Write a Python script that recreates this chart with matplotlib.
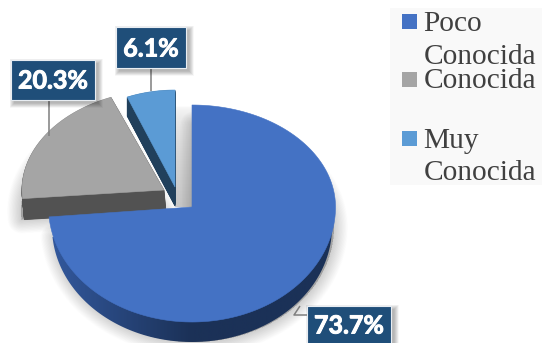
import numpy as np
import matplotlib
matplotlib.use("Agg")
import matplotlib.pyplot as plt
import matplotlib.patheffects as pe
from matplotlib.colors import LinearSegmentedColormap
from matplotlib.patches import Polygon, Rectangle

categories = ["Poco\nConocida", "Conocida", "Muy\nConocida"]
shares = [73.7, 20.3, 6.1]
labels = ["73.7%", "20.3%", "6.1%"]

top_colors = ["#4472C4", "#A5A5A5", "#5B9BD5"]
side_colors = ["#1B3157", "#525252", "#21405C"]

W, H = 542, 343
fig = plt.figure(figsize=(W / 100, H / 100), dpi=100)
ax = fig.add_axes([0, 0, 1, 1])
ax.axis("off")


def slice_outline(start, sweep, cx, cy, rx, ry_up, ry_down):
    """Closed outline of a tilted pie slice; angles run clockwise from 12 o'clock."""
    a = np.radians(np.linspace(start, start + sweep, 200))
    dx, dy = np.sin(a), -np.cos(a)
    x = cx + rx * dx
    y = cy + np.where(dy < 0, ry_up, ry_down) * dy
    return np.column_stack([np.r_[cx, x], np.r_[cy, y]])


def soft_shadow(xy, off=(0, 0), spread=20, strength=0.007, z=1):
    """Blurred drop shadow built from widening translucent strokes."""
    p = xy + np.array(off)
    for lw in np.linspace(0.5, spread, 24):
        ax.fill(p[:, 0], p[:, 1], fc="black", ec="black", lw=lw, alpha=strength,
                joinstyle="round", zorder=z)


def draw_extruded(xy, top, side, depth, drift, z):
    for t in np.linspace(1, 0, int(depth) * 2 + 1)[:-1]:
        ax.fill(xy[:, 0] + drift * t, xy[:, 1] + depth * t, fc=side, ec=side,
                lw=0.6, zorder=z)
    ax.fill(xy[:, 0], xy[:, 1], fc=top, ec=top, lw=0.4, zorder=z + 0.5)


# Slice angles follow the shares, clockwise from the top
total = sum(shares)
sweeps = [360 * s / total for s in shares]
starts = np.r_[0, np.cumsum(sweeps)[:-1]]

geometry = [
    dict(cx=192, cy=207, rx=143.5, ry_up=102, ry_down=115, depth=20, drift=0),
    dict(cx=164, cy=190, rx=142, ry_up=100, ry_down=100, depth=21, drift=2),
    dict(cx=175, cy=187, rx=128, ry_up=97, ry_down=97, depth=19, drift=0),
]
outlines = [
    slice_outline(st, sw, g["cx"], g["cy"], g["rx"], g["ry_up"], g["ry_down"])
    for st, sw, g in zip(starts, sweeps, geometry)
]

# Lower face of the large slice, slightly narrower than its top
g = geometry[0]
rim_outline = slice_outline(starts[0], sweeps[0], g["cx"], g["cy"] + g["depth"],
                            g["rx"] - 3.5, g["ry_up"], g["ry_down"])

# Shadow falling into the gap between the exploded slices and the large one
gap = np.linspace(0, 1, 60)[:, None] ** 0.45
ax.imshow(np.dstack([np.zeros((60, 1))] * 3 + [gap * 0.22]), extent=(175, 193, 207, 105),
          aspect="auto", zorder=1.5, interpolation="bilinear")
ax.set_xlim(0, W)
ax.set_ylim(H, 0)

# Shadows first, then gray, light blue and finally the large slice
soft_shadow(outlines[1], off=(-1, 21), z=1)
soft_shadow(rim_outline, off=(2, 0), z=1)

draw_extruded(outlines[1], top_colors[1], side_colors[1], geometry[1]["depth"],
              geometry[1]["drift"], 2)
draw_extruded(outlines[2], top_colors[2], side_colors[2], geometry[2]["depth"],
              geometry[2]["drift"], 3)

# The large slice has a shaded rim that darkens towards the front
rim_clip = Polygon(rim_outline, closed=True, transform=ax.transData, fc="none", ec="none")
ax.add_patch(rim_clip)
rim_cmap = LinearSegmentedColormap.from_list("rim", ["#33599E", "#1B3157", "#1B3157"])
rim = ax.imshow(np.linspace(0, 1, 300)[None, :], cmap=rim_cmap, aspect="auto",
                extent=(48, 336, H, 0), zorder=4)
rim.set_clip_path(rim_clip)
ax.set_xlim(0, W)
ax.set_ylim(H, 0)
ax.fill(outlines[0][:, 0], outlines[0][:, 1], fc=top_colors[0], ec=top_colors[0], lw=0.4, zorder=4.5)

# Data callouts with leader lines
callouts = [
    dict(box=(307, 306, 84, 42), line=[(300, 306), (294, 315), (307, 315)], text_y=326),
    dict(box=(11, 60, 84, 40), line=[(49, 100), (49, 136)], text_y=81),
    dict(box=(116, 27, 70, 41), line=[(151, 68), (151, 91)], text_y=49),
]
for text, c in zip(labels, callouts):
    x, y, w, h = c["box"]
    xs, ys = zip(*c["line"])
    ax.plot(xs, ys, color="#7F7F7F", lw=1.1, zorder=6, solid_capstyle="butt")
    for grow in np.linspace(0, 9, 10):
        ax.add_patch(Rectangle((x + 3 - grow / 2, y + 3 - grow / 2), w + grow, h + grow,
                               fc="black", ec="none", alpha=0.03, zorder=6.5))
    ax.add_patch(Rectangle((x, y), w, h, fc="#1F4E79", ec="#E8EDF2", lw=0.8, zorder=7))
    ax.text(x + w / 2, c["text_y"], text, color="white", fontsize=18,
            fontweight="bold", family="Lato", ha="center", va="center", zorder=8,
            path_effects=[pe.withStroke(linewidth=0.7, foreground="white")])

# Legend panel
ax.add_patch(Rectangle((390, 8), 152, 177, fc="#F9F9F9", ec="none", zorder=0.5))
legend_rows = [(14, 31), (72, 88), (131, 148)]
for name, color, (swatch_y, baseline) in zip(categories, top_colors, legend_rows):
    ax.add_patch(Rectangle((402, swatch_y), 15, 15, fc=color, ec="none", zorder=2))
    for n, row in enumerate(name.split("\n")):
        ax.text(423.5, baseline + n * 32.5, row, fontsize=21.2, family="Liberation Serif",
                color="#404040", ha="left", va="baseline", zorder=2)

fig.savefig("out.png", dpi=100, facecolor="white")
